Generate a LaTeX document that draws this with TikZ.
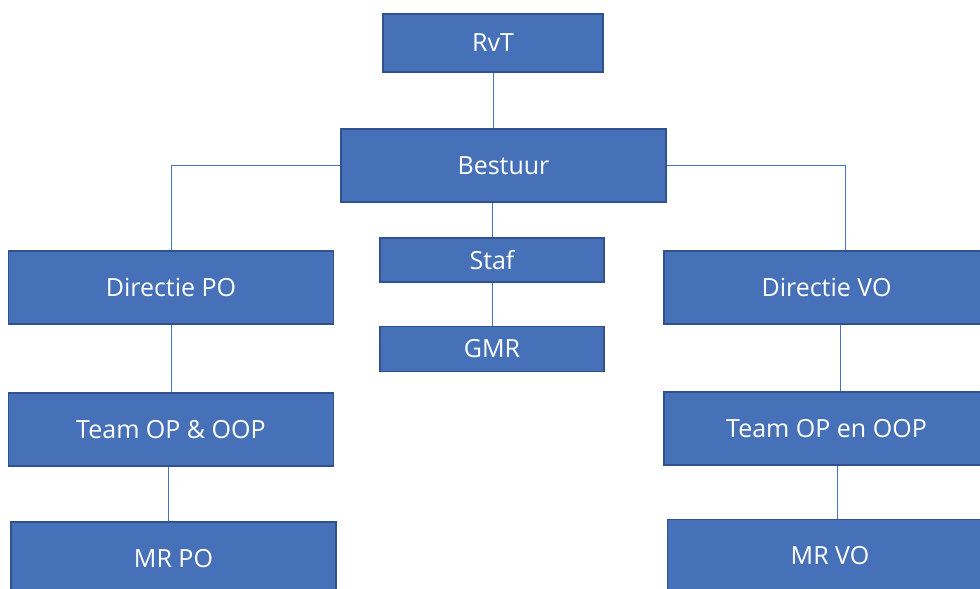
\documentclass[tikz,border=0pt]{standalone}
\usepackage{fontspec}
\setmainfont{Open Sans}
\definecolor{boxfill}{HTML}{4671B8}
\definecolor{boxline}{HTML}{2F528F}
\definecolor{conn}{HTML}{4472C4}
\begin{document}
\begin{tikzpicture}[x=1pt,y=-1pt,
  orgbox/.style={draw=boxline,line width=1.3pt,fill=boxfill,text=white,
    inner sep=0pt,font=\fontsize{25}{29}\selectfont},
  link/.style={draw=conn,line width=1pt}]
\useasboundingbox (0,0) rectangle (980,589);
\clip (0,0) rectangle (980,589);
\node[orgbox,minimum width=220pt,minimum height=58pt] (rvt) at (493,43) {RvT};
\node[orgbox,minimum width=325pt,minimum height=73pt] (bestuur) at (503.5,165.5) {Bestuur};
\node[orgbox,minimum width=224pt,minimum height=44pt] (staf) at (492,260) {Staf};
\node[orgbox,minimum width=224pt,minimum height=45pt] (gmr) at (492,349) {GMR};
\node[orgbox,minimum width=325pt,minimum height=73pt] (dpo) at (171,287.5) {Directie PO};
\node[orgbox,minimum width=325pt,minimum height=73pt] (dvo) at (826.5,287.5) {Directie VO};
\node[orgbox,minimum width=325pt,minimum height=73pt] (tpo) at (171,429.5) {Team OP \& OOP};
\node[orgbox,minimum width=325pt,minimum height=73pt] (tvo) at (826.5,428.5) {Team OP en OOP};
\node[orgbox,minimum width=325pt,minimum height=73pt] (mrpo) at (173.5,558.5) {MR PO};
\node[orgbox,minimum width=325pt,minimum height=73pt] (mrvo) at (830,556) {MR VO};
\coordinate (dvoin) at ([xshift=18.5pt]dvo.north);
\coordinate (dvoout) at ([xshift=13.5pt]dvo.south);
\coordinate (tpoout) at ([xshift=-2.7pt]tpo.south);
\coordinate (tvoout) at ([xshift=10.8pt]tvo.south);
\draw[link] (rvt.south) -- (rvt.south |- bestuur.north);
\draw[link] (staf.north) -- (staf.north |- bestuur.south);
\draw[link] (staf.south) -- (gmr.north);
\draw[link] (bestuur.west) -| (dpo.north);
\draw[link] (bestuur.east) -| (dvoin);
\draw[link] (dpo.south) -- (tpo.north);
\draw[link] (dvoout) -- (dvoout |- tvo.north);
\draw[link] (tpoout) -- (tpoout |- mrpo.north);
\draw[link] (tvoout) -- (tvoout |- mrvo.north);
\end{tikzpicture}
\end{document}
